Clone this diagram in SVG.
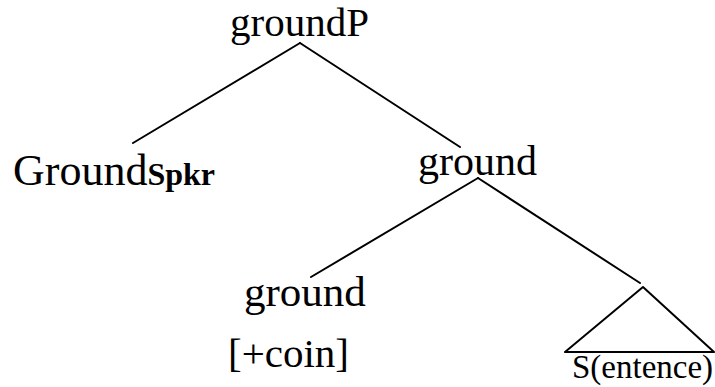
<svg xmlns="http://www.w3.org/2000/svg" width="715" height="387" viewBox="0 0 715 387">
  <style>
    .edge { stroke: #000; stroke-width: 2; fill: none; stroke-linecap: round; stroke-linejoin: round; }
  </style>
  <rect width="715" height="387" fill="#fff"/>

  <g id="connectors">
    <line class="edge" x1="300" y1="43" x2="133" y2="143"/>
    <line class="edge" x1="300" y1="43" x2="460" y2="147"/>
    <line class="edge" x1="478" y1="178" x2="311" y2="277"/>
    <line class="edge" x1="478" y1="178" x2="640" y2="283"/>
    <polyline class="edge" points="565,352 643,287 714,352 565,352"/>
  </g>

  <g id="node-groundP">
    <text x="230" y="36" font-family="Liberation Serif" font-size="41">groundP</text>
  </g>
  <g id="node-ground-spkr">
    <text x="13" y="185" font-family="Liberation Serif" font-size="44">Ground<tspan font-size="32" font-weight="bold">Spkr</tspan></text>
  </g>
  <g id="node-ground-bar">
    <text x="418" y="175" font-family="Liberation Serif" font-size="42">ground</text>
  </g>
  <g id="node-ground-head">
    <text x="244" y="306" font-family="Liberation Serif" font-size="43">ground</text>
    <text x="228" y="367" font-family="Liberation Serif" font-size="41">[+coin]</text>
  </g>
  <g id="node-sentence">
    <text x="572" y="378" font-family="Liberation Serif" font-size="33">S(entence)</text>
  </g>
</svg>
